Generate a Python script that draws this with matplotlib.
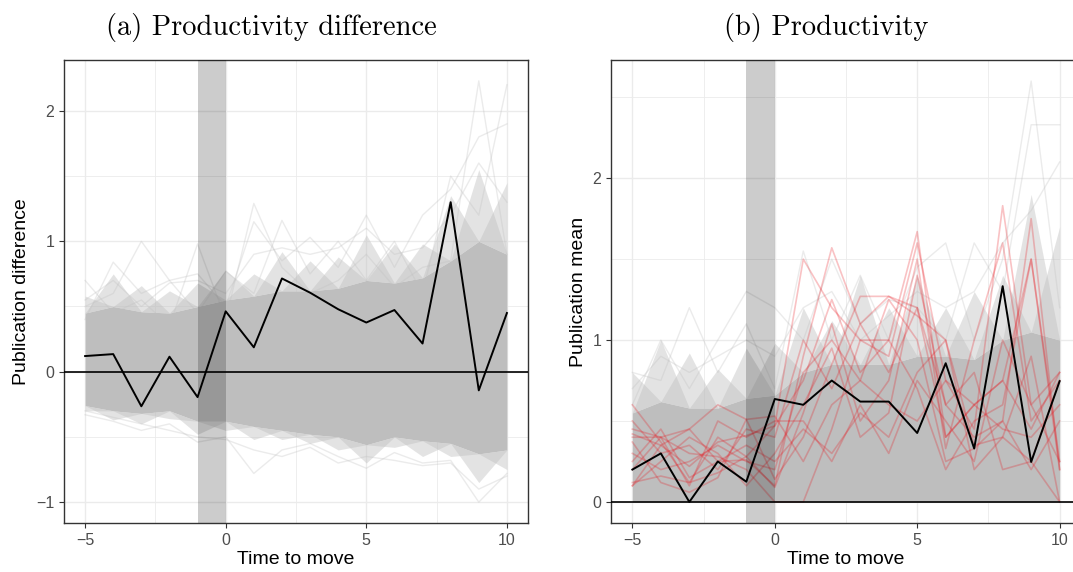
import numpy as np
import matplotlib
matplotlib.use("Agg")
import matplotlib.pyplot as plt

plt.rcParams['font.family'] = ['Liberation Sans', 'DejaVu Sans']

# time axis
time = [-5, -4, -3, -2, -1, 0, 1, 2, 3, 4, 5, 6, 7, 8, 9, 10]

# (a) productivity difference: observed line and permutation envelope
diff_obs = [0.12, 0.135, -0.265, 0.115, -0.195, 0.463, 0.187, 0.715, 0.606, 0.479,
            0.377, 0.473, 0.216, 1.30, -0.143, 0.450]
diff_core_hi = [0.45, 0.50, 0.46, 0.45, 0.50, 0.55, 0.58, 0.62, 0.62, 0.64, 0.70, 0.68, 0.72, 0.85, 1.00, 0.90]
diff_core_lo = [-0.26, -0.30, -0.32, -0.30, -0.38, -0.38, -0.42, -0.45, -0.48, -0.50, -0.56, -0.50, -0.53, -0.55, -0.63, -0.60]
# fringe of the permutation lines (peaks at even / odd years)
diff_hi_a = [0.45, 0.75, 0.46, 0.62, 0.50, 0.78, 0.58, 0.92, 0.62, 0.88, 0.70, 0.98, 0.72, 1.35, 1.00, 1.45]
diff_hi_b = [0.58, 0.50, 0.66, 0.45, 0.68, 0.55, 0.75, 0.62, 0.85, 0.64, 1.05, 0.68, 0.98, 0.85, 1.55, 0.90]
diff_lo_a = [-0.26, -0.37, -0.32, -0.36, -0.38, -0.45, -0.42, -0.52, -0.48, -0.60, -0.56, -0.58, -0.53, -0.65, -0.63, -0.75]
diff_lo_b = [-0.30, -0.30, -0.40, -0.30, -0.48, -0.38, -0.52, -0.45, -0.55, -0.50, -0.70, -0.50, -0.65, -0.55, -0.85, -0.60]
diff_outer = [
    [0.70, 0.45, 0.55, 0.35, 0.98, 0.40, 1.29, 0.80, 0.60, 0.70, 0.90, 0.65, 0.80, 0.85, 2.23, 0.90],
    [0.40, 0.84, 0.60, 0.70, 0.45, 0.77, 0.60, 1.16, 0.75, 1.00, 0.70, 1.00, 0.60, 1.50, 1.20, 2.20],
    [0.50, 0.60, 1.00, 0.70, 0.75, 0.50, 1.15, 0.85, 1.03, 0.80, 1.20, 0.80, 1.20, 1.40, 1.80, 1.90],
    [0.55, 0.70, 0.50, 0.68, 0.70, 0.60, 0.90, 0.95, 0.90, 0.95, 1.10, 0.90, 0.95, 1.20, 1.60, 1.30],
    [-0.33, -0.38, -0.45, -0.40, -0.54, -0.50, -0.78, -0.60, -0.55, -0.65, -0.74, -0.62, -0.70, -0.68, -1.00, -0.78],
    [-0.30, -0.35, -0.40, -0.45, -0.50, -0.52, -0.60, -0.65, -0.58, -0.70, -0.65, -0.68, -0.72, -0.70, -0.90, -0.80],
]

# (b) productivity: observed mean, permutation envelope, movers (red)
mean_obs = [0.20, 0.30, 0.0, 0.25, 0.125, 0.636, 0.60, 0.75, 0.62, 0.62, 0.426, 0.857, 0.33, 1.333, 0.247, 0.746]
mean_core_hi = [0.55, 0.62, 0.58, 0.58, 0.64, 0.66, 0.80, 0.85, 0.85, 0.85, 0.90, 0.90, 0.88, 1.00, 1.05, 1.00]
mean_hi_a = [0.55, 1.00, 0.58, 0.82, 0.64, 0.98, 0.80, 1.12, 0.85, 1.20, 0.90, 1.20, 0.88, 1.40, 1.05, 1.70]
mean_hi_b = [0.80, 0.62, 0.92, 0.58, 0.95, 0.66, 1.20, 0.85, 1.40, 0.85, 1.40, 0.90, 1.30, 1.00, 1.90, 1.00]
mean_outer = [
    [0.80, 0.75, 1.20, 0.80, 1.10, 0.70, 1.55, 1.00, 1.40, 1.00, 1.45, 1.60, 1.00, 1.50, 2.60, 1.20],
    [0.60, 1.00, 0.70, 1.00, 1.30, 1.20, 1.00, 1.50, 1.10, 1.25, 1.20, 1.00, 1.60, 1.30, 2.33, 2.33],
    [0.70, 0.90, 0.80, 0.90, 1.00, 0.90, 1.20, 1.30, 1.00, 1.15, 1.30, 1.20, 1.30, 1.60, 1.80, 2.10],
]
movers = [
    [0.60, 0.37, 0.12, 0.18, 0.28, 0.47, 1.50, 1.20, 1.00, 0.90, 1.60, 0.75, 0.45, 1.83, 0.60, 0.80],
    [0.45, 0.40, 0.45, 0.25, 0.26, 0.10, 0.90, 1.57, 1.10, 1.27, 1.20, 0.60, 0.40, 0.50, 1.75, 0.20],
    [0.42, 0.35, 0.22, 0.37, 0.41, 0.47, 0.75, 1.25, 0.80, 1.00, 1.67, 0.40, 0.60, 0.75, 1.50, 0.25],
    [0.10, 0.35, 0.45, 0.60, 0.51, 0.14, 0.40, 0.85, 1.27, 1.27, 1.15, 1.00, 0.35, 0.40, 0.25, 0.00],
    [0.12, 0.16, 0.12, 0.40, 0.28, 0.09, 0.55, 1.10, 0.50, 0.75, 1.50, 0.33, 1.00, 1.60, 0.50, 0.75],
    [0.37, 0.12, 0.06, 0.15, 0.51, 0.53, 0.25, 0.60, 0.75, 0.60, 0.50, 0.75, 0.60, 0.45, 0.40, 0.60],
    [0.40, 0.40, 0.30, 0.28, 0.20, 0.00, 0.00, 0.45, 1.00, 1.00, 0.70, 0.20, 0.50, 0.60, 1.50, 0.20],
    [0.10, 0.25, 0.40, 0.30, 0.10, 0.30, 0.60, 0.95, 0.40, 0.55, 1.40, 0.60, 0.80, 0.20, 0.25, 0.75],
    [0.20, 0.40, 0.10, 0.50, 0.40, 0.50, 0.50, 0.25, 0.60, 0.30, 0.75, 0.50, 0.25, 1.00, 0.60, 0.25],
    [0.50, 0.30, 0.35, 0.20, 0.45, 0.40, 1.00, 0.70, 1.10, 0.80, 1.20, 0.40, 0.60, 0.75, 0.45, 0.80],
    [0.30, 0.20, 0.25, 0.35, 0.25, 0.20, 0.80, 1.00, 0.75, 1.25, 1.00, 0.25, 0.33, 0.50, 0.20, 0.50],
    [0.25, 0.45, 0.15, 0.25, 0.35, 0.25, 0.45, 0.30, 0.55, 0.40, 0.80, 1.00, 0.20, 0.40, 0.90, 0.00],
]

GREY = '#bebebe'


def style(ax, yticks, yminor):
    ax.set_xlim(-5.75, 10.75)
    ax.set_xticks([-5, 0, 5, 10])
    ax.set_xticks([-2.5, 2.5, 7.5], minor=True)
    ax.set_yticks(yticks)
    ax.set_yticks(yminor, minor=True)
    ax.grid(which='major', color='#ebebeb', lw=1.0, zorder=0)
    ax.grid(which='minor', color='#ebebeb', lw=0.6, zorder=0)
    ax.set_axisbelow(True)
    for s in ax.spines.values():
        s.set_color('#333333')
        s.set_linewidth(1.0)
    ax.tick_params(which='major', length=3.5, width=0.8, color='#333333',
                   labelcolor='#4d4d4d', labelsize=11.5)
    ax.tick_params(which='minor', length=0)
    ax.set_xlabel('Time to move', fontsize=14, labelpad=2)


fig = plt.figure(figsize=(10.73, 5.72), dpi=100)
ax1 = fig.add_axes([64 / 1073, 49 / 572, 464 / 1073, 463 / 572])
ax2 = fig.add_axes([611 / 1073, 49 / 572, 470 / 1073, 463 / 572])

# panel (a)
for line in diff_outer:
    ax1.plot(time, line, color=GREY, alpha=0.3, lw=1, zorder=1)
for edge in (diff_hi_a, diff_hi_b):
    ax1.fill_between(time, diff_core_hi, edge, color=GREY, alpha=0.42, lw=0, zorder=1)
for edge in (diff_lo_a, diff_lo_b):
    ax1.fill_between(time, diff_core_lo, edge, color=GREY, alpha=0.42, lw=0, zorder=1)
ax1.fill_between(time, diff_core_lo, diff_core_hi, color=GREY, lw=0, zorder=2)
ax1.axvspan(-1, 0, color='black', alpha=0.2, lw=0, zorder=3)
ax1.axhline(0, color='black', lw=1.2, zorder=4)
ax1.plot(time, diff_obs, color='black', lw=1.4, zorder=5)
ax1.set_ylim(-1.16, 2.39)
style(ax1, [-1, 0, 1, 2], [-0.5, 0.5, 1.5])
ax1.set_ylabel('Publication difference', fontsize=14, labelpad=4)

# panel (b)
for line in mean_outer:
    ax2.plot(time, line, color=GREY, alpha=0.3, lw=1, zorder=1)
for edge in (mean_hi_a, mean_hi_b):
    ax2.fill_between(time, mean_core_hi, edge, color=GREY, alpha=0.42, lw=0, zorder=1)
ax2.fill_between(time, 0, mean_core_hi, color=GREY, lw=0, zorder=2)
for line in movers:
    ax2.plot(time, line, color='#e8141c', alpha=0.26, lw=1.2, zorder=3)
ax2.axvspan(-1, 0, color='black', alpha=0.2, lw=0, zorder=4)
ax2.axhline(0, color='black', lw=1.2, zorder=5)
ax2.plot(time, mean_obs, color='black', lw=1.4, zorder=6)
ax2.set_ylim(-0.13, 2.73)
style(ax2, [0, 1, 2], [0.5, 1.5, 2.5])
ax2.set_ylabel('Publication mean', fontsize=14, labelpad=4)

fig.text(271 / 1073, 1 - 28 / 572, '(a) Productivity difference', family='cmr10',
         fontsize=20.5, ha='center', va='center')
fig.text(826 / 1073, 1 - 28 / 572, '(b) Productivity', family='cmr10',
         fontsize=20.5, ha='center', va='center')

fig.savefig('out.png', dpi=100)
